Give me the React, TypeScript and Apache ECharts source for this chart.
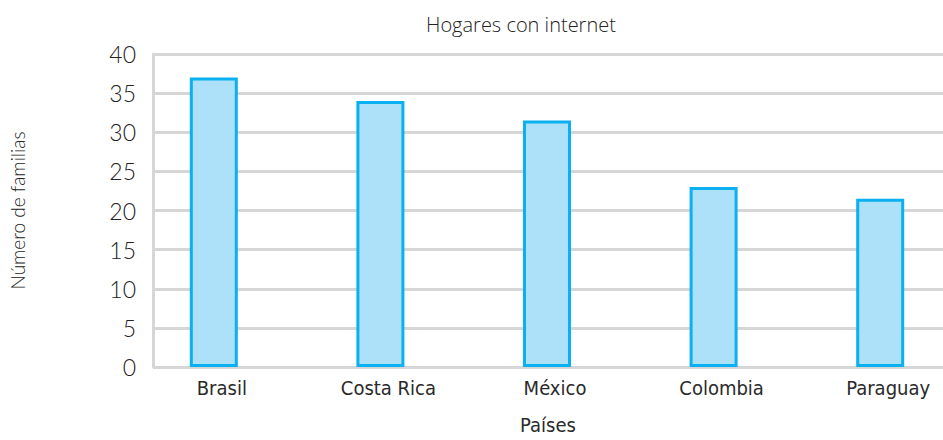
import React, { useEffect, useRef } from "react";
import * as echarts from "echarts";

const categories = ["Brasil", "Costa Rica", "México", "Colombia", "Paraguay"];
const values = [37, 34, 31.5, 23, 21.5];
const positions = [0, 1, 2, 3, 4];
const yTicks = [0, 5, 10, 15, 20, 25, 30, 35, 40];

const title = "Hogares con internet";
const xName = "Países";
const yName = "Número de familias";

export default function App() {
  const ref = useRef<HTMLDivElement>(null);
  useEffect(() => {
    if (!ref.current) return;
    const chart = echarts.init(ref.current, undefined, { renderer: "svg" });
    const gridColor = "#d6d6d6";
    const condensed = "'DejaVu Sans Condensed', 'Liberation Sans Narrow', 'DejaVu Sans', sans-serif";
    const light = "Lato, 'Open Sans', sans-serif";
    chart.setOption({
      animation: false,
      backgroundColor: "#ffffff",
      title: {
        text: title,
        left: 421,
        top: 9,
        textStyle: { fontFamily: "'Open Sans', sans-serif", fontSize: 20, fontWeight: 300, color: "#222" },
      },
      grid: { left: 150, right: 0, top: 54, bottom: 68, containLabel: false },
      xAxis: {
        type: "value",
        min: -0.365,
        max: 4.377,
        name: xName,
        nameLocation: "middle",
        nameGap: 48,
        nameTextStyle: { fontFamily: condensed, fontSize: 20, color: "#2a2a2a" },
        axisLine: { show: false },
        axisTick: { show: false },
        splitLine: { show: false },
        axisLabel: {
          customValues: positions,
          margin: 11,
          padding: [0, 0, 0, 16],
          fontFamily: condensed,
          fontSize: 20,
          color: "#2a2a2a",
          formatter: (v: number) => categories[Math.round(v)] ?? "",
        },
      },
      yAxis: {
        type: "value",
        min: yTicks[0],
        max: yTicks[yTicks.length - 1],
        interval: 5,
        name: yName,
        nameLocation: "middle",
        nameGap: 126,
        nameTextStyle: { fontFamily: light, fontSize: 19, fontWeight: 300, color: "#222" },
        axisLine: { show: true, onZero: false, lineStyle: { color: gridColor, width: 3 } },
        axisTick: { show: false },
        splitLine: { show: true, lineStyle: { color: gridColor, width: 3 } },
        axisLabel: { margin: 17, fontFamily: light, fontSize: 23, fontWeight: 300, color: "#222" },
      },
      series: [
        {
          type: "bar",
          data: positions.map((p, i) => [p, values[i]]),
          barWidth: 48,
          itemStyle: { color: "#ade0f9", borderColor: "#0ab0ef", borderWidth: 3 },
        },
      ],
    });
    return () => chart.dispose();
  }, []);
  return <div ref={ref} style={{ position: "absolute", left: 0, top: 0, width: 943, height: 440 }} />;
}
